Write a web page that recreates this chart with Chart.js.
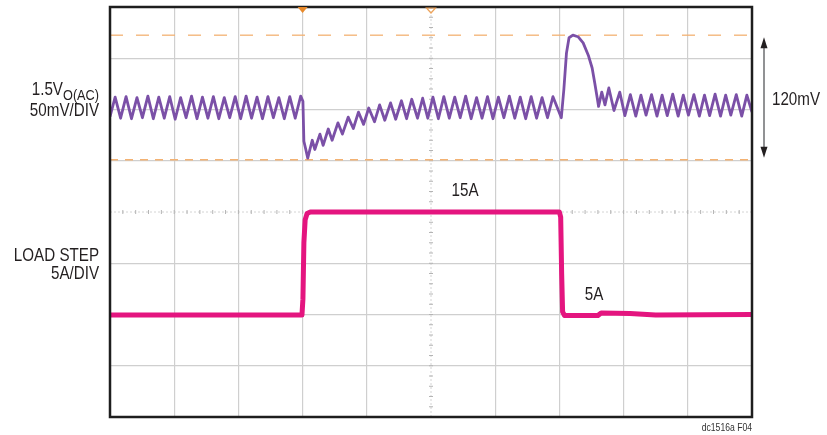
<!DOCTYPE html>
<html>
<head>
<meta charset="utf-8">
<script src="https://cdn.jsdelivr.net/npm/chart.js@4.4.1/dist/chart.umd.min.js"></script>
<style>
body { margin: 0; background: #fff; }
canvas { display: block; }
</style>
</head>
<body>
<canvas id="scopeChart" width="827" height="435"></canvas>
<script>
// Load step scope capture, values in divisions
// x: 0..10 div, y: -4..4 div (centre line = 0)

var voltTime = [
    0.00, 0.08, 0.165, 0.25, 0.335, 0.42, 0.505, 0.59, 0.675, 0.76,
    0.845, 0.93, 1.015, 1.10, 1.185, 1.27, 1.355, 1.44, 1.525, 1.61,
    1.695, 1.78, 1.865, 1.95, 2.035, 2.12, 2.205, 2.29, 2.375, 2.46,
    2.545, 2.63, 2.715, 2.80, 2.885, 2.97, 3.005, 3.02, 3.05, 3.08,
    3.15, 3.19, 3.27, 3.32, 3.40, 3.46, 3.55, 3.62, 3.71, 3.79,
    3.87, 3.95, 4.03, 4.12, 4.20, 4.28, 4.37, 4.45, 4.54, 4.62,
    4.70, 4.79, 4.87, 4.95, 5.03, 5.115, 5.20, 5.285, 5.37, 5.455,
    5.54, 5.625, 5.71, 5.795, 5.88, 5.965, 6.05, 6.135, 6.22, 6.305,
    6.39, 6.475, 6.56, 6.645, 6.73, 6.815, 6.90, 7.03, 7.07, 7.11,
    7.15, 7.21, 7.29, 7.37, 7.45, 7.51, 7.55, 7.59, 7.61, 7.66,
    7.71, 7.77, 7.85, 7.94, 8.02, 8.105, 8.19, 8.27, 8.35, 8.435,
    8.52, 8.60, 8.68, 8.765, 8.85, 8.93, 9.01, 9.095, 9.18, 9.26,
    9.34, 9.425, 9.51, 9.59, 9.67, 9.755, 9.84, 9.92, 10.0
];
var voltDiv = [
    1.86, 2.24, 1.83, 2.25, 1.82, 2.23, 1.84, 2.26, 1.82, 2.24,
    1.83, 2.25, 1.81, 2.23, 1.84, 2.26, 1.82, 2.24, 1.83, 2.25,
    1.82, 2.23, 1.84, 2.25, 1.82, 2.26, 1.83, 2.24, 1.82, 2.25,
    1.84, 2.23, 1.82, 2.25, 1.83, 2.26, 2.16, 1.38, 1.22, 1.05,
    1.40, 1.22, 1.52, 1.30, 1.62, 1.40, 1.74, 1.52, 1.85, 1.63,
    1.95, 1.71, 2.03, 1.76, 2.09, 1.79, 2.13, 1.81, 2.17, 1.82,
    2.20, 1.83, 2.22, 1.83, 2.24, 1.82, 2.25, 1.83, 2.24, 1.84,
    2.26, 1.82, 2.23, 1.83, 2.25, 1.82, 2.24, 1.84, 2.26, 1.83,
    2.24, 1.82, 2.25, 1.83, 2.23, 1.84, 2.25, 1.84, 2.40, 3.10,
    3.40, 3.45, 3.42, 3.30, 3.06, 2.81, 2.52, 2.22, 2.06, 2.34,
    2.09, 2.42, 1.98, 2.34, 1.88, 2.29, 1.87, 2.28, 1.89, 2.29,
    1.87, 2.28, 1.88, 2.30, 1.87, 2.28, 1.89, 2.29, 1.87, 2.28,
    1.88, 2.30, 1.87, 2.28, 1.89, 2.29, 1.87, 2.28, 1.95
];

var loadTime = [0.00, 2.99, 3.005, 3.02, 3.04, 3.07, 3.12, 7.00, 7.02, 7.035, 7.05, 7.08, 7.60, 7.65, 8.10, 8.50, 10.0];
var loadDiv  = [-2.01, -2.01, -1.70, -0.60, -0.15, -0.03, 0.00, 0.00, -0.10, -1.20, -1.95, -2.02, -2.02, -1.97, -1.98, -2.01, -2.00];

var cursorDiv = [3.45, 1.02];       // 120mV cursors
var triggerTime = [3.0, 5.0];       // filled / open markers on top edge

var labelFont = '"Liberation Sans", Arial, sans-serif';
var textColor = '#231f20';
var squeeze = 0.82;                 // condensed look

function toPoints(xs, ys) {
    var pts = [];
    for (var i = 0; i < xs.length; i++) pts.push({ x: xs[i], y: ys[i] });
    return pts;
}

// draw text squeezed horizontally, returns drawn width
function narrowText(c, txt, x, y) {
    var w = c.measureText(txt).width * squeeze;
    c.fillText(txt, x, y, w);
    return w;
}

var scopeDecor = {
    id: 'scopeDecor',
    beforeDatasetsDraw: function (chart) {
        var ctx = chart.ctx, a = chart.chartArea;
        var xs = chart.scales.x, ys = chart.scales.y;
        var cx = xs.getPixelForValue(5), cy = ys.getPixelForValue(0);
        ctx.save();
        ctx.strokeStyle = '#d4d4d4';
        ctx.lineWidth = 1;
        ctx.setLineDash([2, 2]);
        ctx.beginPath();
        ctx.moveTo(cx, a.top); ctx.lineTo(cx, a.bottom);
        ctx.moveTo(a.left, cy); ctx.lineTo(a.right, cy);
        ctx.stroke();
        ctx.setLineDash([]);
        ctx.strokeStyle = '#b4b4b4';
        ctx.beginPath();
        for (var t = 0.2; t < 10; t += 0.2) {
            var px = xs.getPixelForValue(t);
            ctx.moveTo(px, cy - 2); ctx.lineTo(px, cy + 2);
        }
        for (var v = -3.8; v < 4; v += 0.2) {
            var py = ys.getPixelForValue(v);
            ctx.moveTo(cx - 2, py); ctx.lineTo(cx + 2, py);
        }
        ctx.stroke();
        ctx.restore();
    },
    afterDraw: function (chart) {
        var ctx = chart.ctx, a = chart.chartArea;
        var xs = chart.scales.x, ys = chart.scales.y;
        ctx.save();

        // frame
        ctx.strokeStyle = '#1e1e1e';
        ctx.lineWidth = 2.5;
        ctx.strokeRect(a.left, a.top, a.right - a.left, a.bottom - a.top);

        // trigger markers
        var tx = xs.getPixelForValue(triggerTime[0]);
        ctx.fillStyle = '#e8892a';
        ctx.beginPath();
        ctx.moveTo(tx - 5, a.top); ctx.lineTo(tx + 5, a.top); ctx.lineTo(tx, a.top + 6);
        ctx.closePath(); ctx.fill();
        var ox = xs.getPixelForValue(triggerTime[1]);
        ctx.strokeStyle = '#eda45c';
        ctx.lineWidth = 1.2;
        ctx.beginPath();
        ctx.moveTo(ox - 4.5, a.top + 1); ctx.lineTo(ox + 4.5, a.top + 1); ctx.lineTo(ox, a.top + 6);
        ctx.closePath(); ctx.stroke();

        // 120mV arrow
        var ax = a.right + 12;
        var y1 = ys.getPixelForValue(cursorDiv[0]) + 2;
        var y2 = ys.getPixelForValue(cursorDiv[1]) - 2;
        ctx.strokeStyle = '#6d6e71';
        ctx.lineWidth = 1.5;
        ctx.beginPath();
        ctx.moveTo(ax, y1 + 8); ctx.lineTo(ax, y2 - 8);
        ctx.stroke();
        ctx.fillStyle = '#231f20';
        ctx.beginPath();
        ctx.moveTo(ax, y1); ctx.lineTo(ax - 3.5, y1 + 11); ctx.lineTo(ax + 3.5, y1 + 11);
        ctx.closePath(); ctx.fill();
        ctx.beginPath();
        ctx.moveTo(ax, y2); ctx.lineTo(ax - 3.5, y2 - 11); ctx.lineTo(ax + 3.5, y2 - 11);
        ctx.closePath(); ctx.fill();

        ctx.fillStyle = textColor;
        ctx.textBaseline = 'alphabetic';

        // left channel labels
        ctx.textAlign = 'right';
        ctx.font = '15.5px ' + labelFont;
        var subW = narrowText(ctx, 'O(AC)', 99, 100);
        ctx.font = '18.5px ' + labelFont;
        narrowText(ctx, '1.5V', 99 - subW, 95);
        narrowText(ctx, '50mV/DIV', 99, 116);
        narrowText(ctx, 'LOAD STEP', 99, 261);
        narrowText(ctx, '5A/DIV', 99, 279);

        // right label
        ctx.textAlign = 'left';
        narrowText(ctx, '120mV', a.right + 20, 105);

        // in-plot labels
        ctx.textAlign = 'center';
        narrowText(ctx, '15A', xs.getPixelForValue(5.53), ys.getPixelForValue(loadDiv[7]) - 16);
        narrowText(ctx, '5A', xs.getPixelForValue(7.54), ys.getPixelForValue(loadDiv[12]) - 16);

        // figure id
        ctx.textAlign = 'right';
        ctx.font = '10.5px ' + labelFont;
        ctx.fillStyle = '#333';
        narrowText(ctx, 'dc1516a F04', a.right, a.bottom + 14);
        ctx.restore();
    }
};

var ctx = document.getElementById('scopeChart');

var scopeChart = new Chart(ctx, {
    type: 'line',
    data: {
        datasets: [{
            label: 'Vout AC',
            data: toPoints(voltTime, voltDiv),
            borderColor: '#7b50a7',
            borderWidth: 2.8,
            order: 0
        }, {
            label: 'Load step',
            data: toPoints(loadTime, loadDiv),
            borderColor: '#e4157f',
            borderWidth: 5,
            order: 1
        }, {
            label: 'cursor top',
            data: [{ x: 0, y: cursorDiv[0] }, { x: 10, y: cursorDiv[0] }],
            borderColor: '#f3b273',
            borderWidth: 1.3,
            borderDash: [13, 13],
            order: 5
        }, {
            label: 'cursor bottom',
            data: [{ x: 0, y: cursorDiv[1] }, { x: 10, y: cursorDiv[1] }],
            borderColor: '#f3b273',
            borderWidth: 1.3,
            borderDash: [8, 7],
            order: 6
        }]
    },
    options: {
        responsive: false,
        animation: false,
        events: [],
        layout: { padding: { left: 110, right: 75, top: 7, bottom: 18 } },
        elements: { point: { radius: 0 }, line: { tension: 0, borderJoinStyle: 'round' } },
        plugins: { legend: { display: false }, tooltip: { enabled: false } },
        scales: {
            x: {
                type: 'linear', min: 0, max: 10,
                ticks: { stepSize: 1, display: false },
                grid: {
                    drawTicks: false, lineWidth: 1.2,
                    color: function (c) { return c.tick && c.tick.value === 5 ? 'rgba(0,0,0,0)' : '#cfcfcf'; }
                },
                border: { display: false }
            },
            y: {
                type: 'linear', min: -4, max: 4,
                ticks: { stepSize: 1, display: false },
                grid: {
                    drawTicks: false, lineWidth: 1.2,
                    color: function (c) { return c.tick && c.tick.value === 0 ? 'rgba(0,0,0,0)' : '#cfcfcf'; }
                },
                border: { display: false }
            }
        }
    },
    plugins: [scopeDecor]
});
</script>
</body>
</html>
